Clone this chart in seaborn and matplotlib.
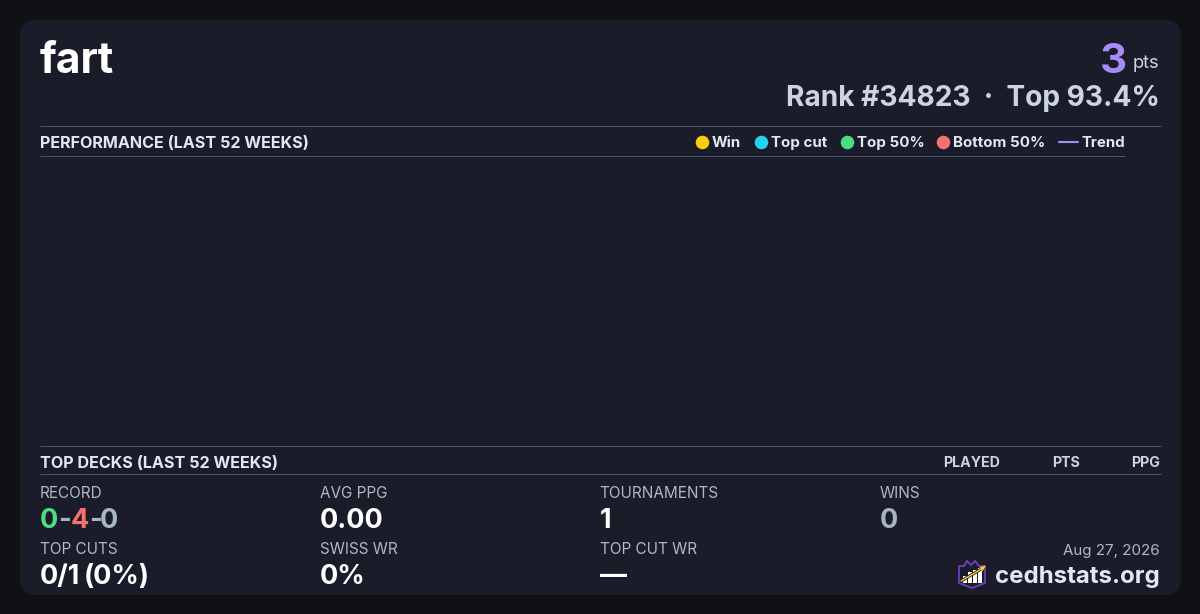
import matplotlib.pyplot as plt
import pandas as pd
import seaborn as sns
from matplotlib.patches import FancyBboxPatch, Polygon, Rectangle

# the card has no results plotted, so the weekly table stays empty
weeks = []
placements = []
finish = []

legend_labels = ["Win", "Top cut", "Top 50%", "Bottom 50%"]
legend_colors = ["#facc15", "#22d3ee", "#4ade80", "#f87171"]
table_columns = ["PLAYED", "PTS", "PPG"]
stat_labels = ["AVG PPG", "TOURNAMENTS", "WINS", "TOP CUTS", "SWISS WR", "TOP CUT WR"]
stat_values = ["0.00", "1", "0", "0/1 (0%)", "0%", "—"]
record = ["0", "-", "4", "-", "0"]

BG = "#101115"
CARD = "#1a1d29"
LINE = "#475569"
HEAD = "#e2e8f0"
MUTED = "#cbd5e1"
LABEL = "#b0b8c5"
SOFT = "#a8b3c4"
PURPLE = "#a78bfa"

sns.set_theme(style="dark")
plt.rcParams["font.family"] = ["Inter", "DejaVu Sans"]

fig = plt.figure(figsize=(12, 6.14), dpi=100, facecolor=BG)
ax = fig.add_axes([0, 0, 1, 1])
ax.set_xlim(0, 1200)
ax.set_ylim(614, 0)
ax.axis("off")

ax.add_patch(FancyBboxPatch((36, 36), 1129, 543, boxstyle="round,pad=16,rounding_size=16",
                            fc=CARD, ec="none", zorder=0))


def txt(x, y, s, size, color, weight="normal", ha="left"):
    ax.text(x, y, s, fontsize=size * 0.72, color=color, fontweight=weight,
            ha=ha, va="baseline", zorder=3)


def rule(x0, x1, y):
    ax.plot([x0, x1], [y, y], color=LINE, lw=0.72, zorder=2, solid_capstyle="butt")


# header
txt(40, 73, "fart", 42.5, "white", "bold")
txt(1127, 73, "3", 42, PURPLE, "bold", ha="right")
txt(1159.5, 68, "pts", 18.3, MUTED, ha="right")
txt(1160, 106, "Rank #34823  ·  Top 93.4%", 28.1, MUTED, "bold", ha="right")

# performance section
rule(40, 1160.5, 126)
rule(40, 1125, 156)
txt(40, 148, "PERFORMANCE (LAST 52 WEEKS)", 16.12, HEAD, "bold")

legend_dot_x = [702, 761, 847, 943]
for x, name, col in zip(legend_dot_x, legend_labels, legend_colors):
    ax.scatter([x], [142], s=95, color=col, marker="o", linewidths=0, zorder=3)
    txt(x + 10, 147, name, 15.1, HEAD, "bold")
ax.plot([1059, 1078], [142, 142], color=PURPLE, lw=1.5, zorder=3)
txt(1081, 147, "Trend", 15, HEAD, "bold")

chart_ax = fig.add_axes([40 / 1200, 1 - 446 / 614, 1085 / 1200, 289 / 614])
chart_ax.patch.set_alpha(0)
frame = pd.DataFrame({"week": pd.Series(weeks, dtype=float),
                      "placement": pd.Series(placements, dtype=float),
                      "finish": pd.Series(finish, dtype=str)})
sns.scatterplot(data=frame, x="week", y="placement", ax=chart_ax, legend=False)
sns.lineplot(data=frame, x="week", y="placement", ax=chart_ax, color=PURPLE, legend=False)
chart_ax.axis("off")

# top decks section
rule(40, 1160.5, 446)
rule(40, 1160.5, 474)
txt(40, 468, "TOP DECKS (LAST 52 WEEKS)", 16.12, HEAD, "bold")
for x, name in zip([1000, 1080, 1160], table_columns):
    txt(x, 467, name, 14.2, MUTED, "bold", ha="right")

# stats grid
txt(40, 497.6, "RECORD", 15.3, LABEL)
record_x = [40, 58, 71, 89, 100]
record_colors = ["#4ade80", SOFT, "#f87171", SOFT, SOFT]
for x, s, col in zip(record_x, record, record_colors):
    txt(x, 528, s, 27, col, "bold")

stat_x = [320, 599.5, 880, 40, 320, 599.5]
stat_colors = ["white", "white", SOFT, "white", "white", "white"]
for i, (x, lab, val, col) in enumerate(zip(stat_x, stat_labels, stat_values, stat_colors)):
    lab_y, val_y = (497.6, 528) if i < 3 else (553.6, 584)
    txt(x, lab_y, lab, 15.3, LABEL)
    if val == "0/1 (0%)":
        # the gap before the bracket is narrower on the card
        txt(x, val_y, "0/1", 27, col, "bold")
        txt(x + 44, val_y, "(0%)", 27, col, "bold")
    else:
        txt(x, val_y, val, 27, col, "bold")

# footer
txt(1160, 555, "Aug 27, 2026", 15.1, LABEL, ha="right")
txt(1160, 583, "cedhstats.org", 24, HEAD, "bold", ha="right")

# logo
ax.add_patch(Polygon([(959, 566), (964, 566), (967, 561), (971, 565), (975, 561), (979, 566),
                      (985, 566), (985, 583), (972, 588), (959, 583)],
                     closed=True, fc="none", ec="#6d3fc4", lw=1.3, zorder=3))
for x, y, h in [(963, 576, 7), (968, 572, 11), (973, 570, 13), (978, 568, 15)]:
    ax.add_patch(Rectangle((x, y), 3.5, h, fc="white", ec="none", zorder=3))
ax.plot([961, 983], [581, 568], color=CARD, lw=2.2, zorder=4)
ax.plot([961, 983], [581, 568], color="#facc15", lw=1.0, zorder=5)
ax.add_patch(Polygon([(986, 565.5), (979.5, 567), (982.5, 571.5)], closed=True,
                     fc="#facc15", ec="none", zorder=5))

fig.savefig("out.png", dpi=100, facecolor=BG)
